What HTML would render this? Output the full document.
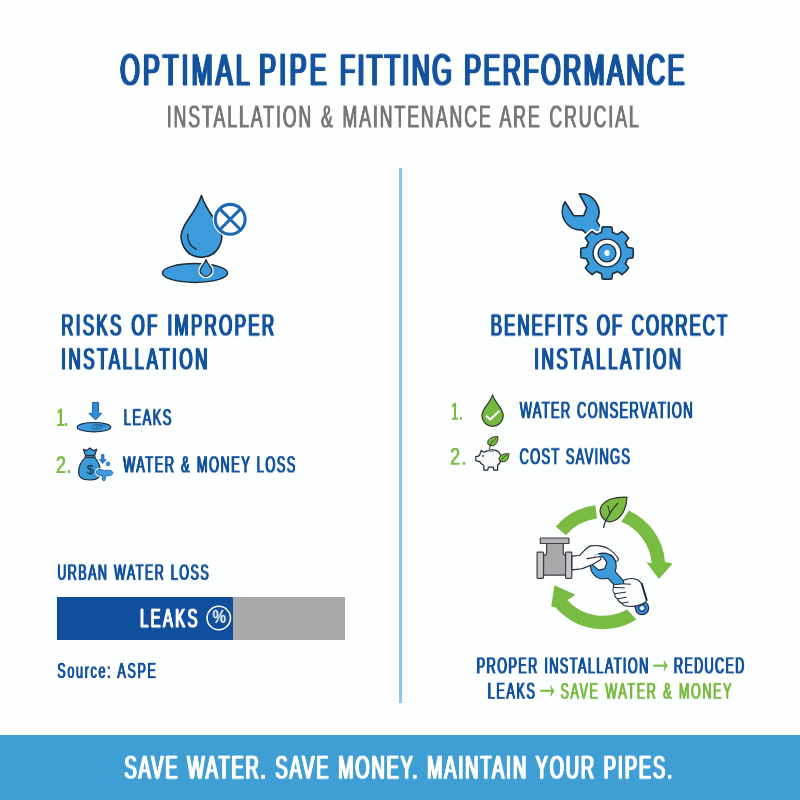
<!DOCTYPE html>
<html><head><meta charset="utf-8"><title>Optimal Pipe Fitting Performance</title>
<style>
html,body{margin:0;padding:0;}
body{width:800px;height:800px;overflow:hidden;background:#fdfefe;position:relative;font-family:"Liberation Sans",sans-serif;}
  .t{position:absolute;left:0;top:0;white-space:nowrap;transform-origin:0 0;margin:0;padding:0;will-change:transform;}
#divider{position:absolute;left:398.5px;top:168px;width:3px;height:535px;background:#8cc6e8;}
#bar{position:absolute;left:57px;top:597px;width:288px;height:42.5px;background:#a9a9a9;}
#barfill{position:absolute;left:0;top:0;width:176px;height:100%;background:#104e9e;}
#footer{position:absolute;left:0;top:735px;width:800px;height:65px;background:#3f9ed4;}
#art{position:absolute;left:0;top:0;width:800px;height:800px;}
#title1{font-size:48.33px;line-height:48.33px;color:#14539e;letter-spacing:6.13px;word-spacing:2.42px;transform:translate(120.23px,46.84px) scale(0.5200,0.9390);-webkit-text-stroke:0.37px #14539e;text-shadow:2.33px 0 0 #14539e,-2.33px 0 0 #14539e;}
#title2{font-size:48.33px;line-height:48.33px;color:#14539e;letter-spacing:6.44px;word-spacing:2.42px;transform:translate(259.18px,46.14px) scale(0.5200,0.9552);-webkit-text-stroke:0.30px #14539e;text-shadow:2.37px 0 0 #14539e,-2.37px 0 0 #14539e;}
#title3{font-size:48.33px;line-height:48.33px;color:#14539e;letter-spacing:4.58px;word-spacing:2.42px;transform:translate(339.76px,46.89px) scale(0.5200,0.9377);-webkit-text-stroke:0.38px #14539e;text-shadow:2.33px 0 0 #14539e,-2.33px 0 0 #14539e;}
#title4{font-size:48.33px;line-height:48.33px;color:#14539e;letter-spacing:4.74px;word-spacing:2.42px;transform:translate(464.18px,46.87px) scale(0.5200,0.9353);-webkit-text-stroke:0.39px #14539e;text-shadow:2.32px 0 0 #14539e,-2.32px 0 0 #14539e;}
#sub{font-size:34.17px;line-height:34.17px;color:#777777;letter-spacing:3.66px;word-spacing:1.71px;transform:translate(166.71px,100.92px) scale(0.5200,0.9161);text-shadow:0.89px 0 0 #777777,-0.89px 0 0 #777777;}
#lh1{font-size:32.58px;line-height:32.58px;color:#14539e;letter-spacing:4.45px;word-spacing:1.63px;transform:translate(61.22px,310.72px) scale(0.5200,0.9193);-webkit-text-stroke:0.42px #14539e;text-shadow:1.58px 0 0 #14539e,-1.58px 0 0 #14539e;}
#lh2{font-size:32.58px;line-height:32.58px;color:#14539e;letter-spacing:4.93px;word-spacing:1.63px;transform:translate(61.17px,344.53px) scale(0.5200,0.9188);-webkit-text-stroke:0.42px #14539e;text-shadow:1.58px 0 0 #14539e,-1.58px 0 0 #14539e;}
#ln1{font-size:26.49px;line-height:26.49px;color:#79bb43;letter-spacing:-0.40px;word-spacing:1.32px;transform:translate(56.82px,404.77px) scale(0.5000,0.9634);text-shadow:1.03px 0 0 #79bb43,-1.03px 0 0 #79bb43;}
#ln2{font-size:25.73px;line-height:25.73px;color:#79bb43;letter-spacing:0.46px;word-spacing:1.29px;transform:translate(55.90px,453.42px) scale(0.7000,0.9290);text-shadow:0.38px 0 0 #79bb43,-0.38px 0 0 #79bb43;}
#li1{font-size:25.00px;line-height:25.00px;color:#14539e;letter-spacing:2.74px;word-spacing:1.25px;transform:translate(123.78px,406.45px) scale(0.5200,0.8925);-webkit-text-stroke:0.31px #14539e;text-shadow:1.09px 0 0 #14539e,-1.09px 0 0 #14539e;}
#li2{font-size:24.70px;line-height:24.70px;color:#14539e;letter-spacing:2.83px;word-spacing:1.23px;transform:translate(123.16px,453.30px) scale(0.5200,0.9585);-webkit-text-stroke:0.15px #14539e;text-shadow:1.15px 0 0 #14539e,-1.15px 0 0 #14539e;}
#urban{font-size:23.88px;line-height:23.88px;color:#14539e;letter-spacing:2.97px;word-spacing:1.19px;transform:translate(57.29px,561.79px) scale(0.5200,0.9006);-webkit-text-stroke:0.31px #14539e;text-shadow:1.11px 0 0 #14539e,-1.11px 0 0 #14539e;}
#barleaks{font-size:28.66px;line-height:28.66px;color:#ffffff;letter-spacing:4.53px;word-spacing:1.43px;transform:translate(140.02px,605.09px) scale(0.5200,0.9261);-webkit-text-stroke:0.35px #ffffff;text-shadow:1.40px 0 0 #ffffff,-1.40px 0 0 #ffffff;}
#source{font-size:23.28px;line-height:23.28px;color:#14539e;letter-spacing:3.09px;word-spacing:1.16px;transform:translate(57.28px,661.30px) scale(0.5400,0.8730);-webkit-text-stroke:0.37px #14539e;text-shadow:0.96px 0 0 #14539e,-0.96px 0 0 #14539e;}
#rh1{font-size:32.58px;line-height:32.58px;color:#14539e;letter-spacing:3.76px;word-spacing:1.63px;transform:translate(490.76px,310.73px) scale(0.5200,0.9189);-webkit-text-stroke:0.42px #14539e;text-shadow:1.58px 0 0 #14539e,-1.58px 0 0 #14539e;}
#rh2{font-size:32.58px;line-height:32.58px;color:#14539e;letter-spacing:5.06px;word-spacing:1.63px;transform:translate(534.21px,344.53px) scale(0.5200,0.9192);-webkit-text-stroke:0.42px #14539e;text-shadow:1.58px 0 0 #14539e,-1.58px 0 0 #14539e;}
#rn1{font-size:25.73px;line-height:25.73px;color:#79bb43;letter-spacing:1.55px;word-spacing:1.29px;transform:translate(451.20px,399.96px) scale(0.5000,0.9411);text-shadow:1.00px 0 0 #79bb43,-1.00px 0 0 #79bb43;}
#rn2{font-size:25.73px;line-height:25.73px;color:#79bb43;letter-spacing:1.71px;word-spacing:1.29px;transform:translate(450.07px,445.12px) scale(0.7000,0.9315);text-shadow:0.38px 0 0 #79bb43,-0.38px 0 0 #79bb43;}
#ri1{font-size:24.85px;line-height:24.85px;color:#14539e;letter-spacing:2.50px;word-spacing:1.24px;transform:translate(519.74px,400.01px) scale(0.5200,0.9054);-webkit-text-stroke:0.27px #14539e;text-shadow:1.10px 0 0 #14539e,-1.10px 0 0 #14539e;}
#ri2{font-size:24.85px;line-height:24.85px;color:#14539e;letter-spacing:2.46px;word-spacing:1.24px;transform:translate(519.53px,446.47px) scale(0.5200,0.8872);-webkit-text-stroke:0.32px #14539e;text-shadow:1.07px 0 0 #14539e,-1.07px 0 0 #14539e;}
#p1{font-size:24.19px;line-height:24.19px;color:#14539e;letter-spacing:2.85px;word-spacing:1.21px;transform:translate(476.71px,654.56px) scale(0.5200,0.9416);-webkit-text-stroke:0.22px #14539e;text-shadow:1.17px 0 0 #14539e,-1.17px 0 0 #14539e;}
#p2{font-size:24.19px;line-height:24.19px;color:#14539e;letter-spacing:2.61px;word-spacing:1.21px;transform:translate(673.87px,654.53px) scale(0.5200,0.9425);-webkit-text-stroke:0.22px #14539e;text-shadow:1.17px 0 0 #14539e,-1.17px 0 0 #14539e;}
#p3{font-size:24.34px;line-height:24.34px;color:#14539e;letter-spacing:3.05px;word-spacing:1.22px;transform:translate(487.75px,679.81px) scale(0.5200,0.9476);-webkit-text-stroke:0.21px #14539e;text-shadow:1.18px 0 0 #14539e,-1.18px 0 0 #14539e;}
#p4{font-size:24.16px;line-height:24.16px;color:#79bb43;letter-spacing:3.13px;word-spacing:1.21px;transform:translate(560.46px,680.39px) scale(0.5200,0.9117);-webkit-text-stroke:0.31px #79bb43;text-shadow:1.05px 0 0 #79bb43,-1.05px 0 0 #79bb43;}
#foot{font-size:35.22px;line-height:35.22px;color:#ffffff;letter-spacing:3.57px;word-spacing:1.76px;transform:translate(124.44px,750.12px) scale(0.5200,0.9490);-webkit-text-stroke:0.30px #ffffff;text-shadow:1.72px 0 0 #ffffff,-1.72px 0 0 #ffffff;}
#ar1{font-size:42.80px;line-height:42.80px;font-weight:normal;color:#79bb43;transform:translate(648.58px,636.78px) scale(0.5546,1);-webkit-text-stroke:0.3px #79bb43;}
#ar2{font-size:43.60px;line-height:43.60px;font-weight:normal;color:#79bb43;transform:translate(535.58px,662.04px) scale(0.5329,1);-webkit-text-stroke:0.3px #79bb43;}
#pct{font-size:17.88px;line-height:17.88px;font-weight:bold;color:#ffffff;transform:translate(212.56px,608.83px) scale(0.8524,1);}
</style></head><body>
<div id="divider"></div>
<div id="bar"><div id="barfill"></div></div>
<div id="footer"></div>
<svg id="art" viewBox="0 0 800 800" width="800" height="800">
<ellipse cx="195" cy="273" rx="32.6" ry="9.4" fill="#3b9bdb" stroke="#1d2b3a" stroke-width="1.5"/>
<path d="M201.40,195.40 C205.81,209.71 216.41,220.20 219.06,227.19 A20.2,20.2 0 1 1 183.74,227.19 C186.39,220.20 196.99,209.71 201.40,195.40Z" fill="#3b9bdb" stroke="#1d2b3a" stroke-width="1.6" stroke-linejoin="round"/>
<path d="M187.6,234.5 C187.6,242 191,247 196,249.2" fill="none" stroke="#1d2b3a" stroke-width="1.4" stroke-linecap="round"/>
<path d="M206.00,259.60 C207.20,263.27 210.10,265.96 210.82,267.75 A5.6,5.6 0 1 1 201.18,267.75 C201.90,265.96 204.80,263.27 206.00,259.60Z" fill="#fff" stroke="#fff" stroke-width="4.2" stroke-linejoin="round"/>
<path d="M206.00,259.60 C207.20,263.27 210.10,265.96 210.82,267.75 A5.6,5.6 0 1 1 201.18,267.75 C201.90,265.96 204.80,263.27 206.00,259.60Z" fill="#3b9bdb" stroke="#1d2b3a" stroke-width="1.3" stroke-linejoin="round"/>
<circle cx="230.2" cy="219.3" r="17.6" fill="#fff"/>
<circle cx="230.2" cy="219.3" r="14.9" fill="#fff" stroke="#1b68b5" stroke-width="3.1"/>
<path d="M220.0,209.10000000000002 L240.39999999999998,229.5 M240.39999999999998,209.10000000000002 L220.0,229.5" stroke="#1b68b5" stroke-width="3.0" fill="none"/>
<path d="M565.0,201.75 L573.7,215.7 L583.75,215.7 L586.75,207.75 L579.25,193.8 A18.45,18.45 0 0 1 596.6,221.2 L600.2,226.4 L606,246 L596,250 L586.4,233.6 L582.3,229.9 A18.45,18.45 0 0 1 565.0,201.75Z" fill="#3b9bdb" stroke="#1d2b3a" stroke-width="1.6" stroke-linejoin="round"/>
<path d="M601.33,232.57 L602.21,227.14 A26.3,26.3 0 0 1 611.79,227.14 L612.67,232.57 A21.2,21.2 0 0 1 617.44,234.55 L621.90,231.33 A26.3,26.3 0 0 1 628.67,238.10 L625.45,242.56 A21.2,21.2 0 0 1 627.43,247.33 L632.86,248.21 A26.3,26.3 0 0 1 632.86,257.79 L627.43,258.67 A21.2,21.2 0 0 1 625.45,263.44 L628.67,267.90 A26.3,26.3 0 0 1 621.90,274.67 L617.44,271.45 A21.2,21.2 0 0 1 612.67,273.43 L611.79,278.86 A26.3,26.3 0 0 1 602.21,278.86 L601.33,273.43 A21.2,21.2 0 0 1 596.56,271.45 L592.10,274.67 A26.3,26.3 0 0 1 585.33,267.90 L588.55,263.44 A21.2,21.2 0 0 1 586.57,258.67 L581.14,257.79 A26.3,26.3 0 0 1 581.14,248.21 L586.57,247.33 A21.2,21.2 0 0 1 588.55,242.56 L585.33,238.10 A26.3,26.3 0 0 1 592.10,231.33 L596.56,234.55 A21.2,21.2 0 0 1 601.33,232.57Z" fill="#fff" stroke="#fff" stroke-width="5" stroke-linejoin="round"/>
<path d="M601.33,232.57 L602.21,227.14 A26.3,26.3 0 0 1 611.79,227.14 L612.67,232.57 A21.2,21.2 0 0 1 617.44,234.55 L621.90,231.33 A26.3,26.3 0 0 1 628.67,238.10 L625.45,242.56 A21.2,21.2 0 0 1 627.43,247.33 L632.86,248.21 A26.3,26.3 0 0 1 632.86,257.79 L627.43,258.67 A21.2,21.2 0 0 1 625.45,263.44 L628.67,267.90 A26.3,26.3 0 0 1 621.90,274.67 L617.44,271.45 A21.2,21.2 0 0 1 612.67,273.43 L611.79,278.86 A26.3,26.3 0 0 1 602.21,278.86 L601.33,273.43 A21.2,21.2 0 0 1 596.56,271.45 L592.10,274.67 A26.3,26.3 0 0 1 585.33,267.90 L588.55,263.44 A21.2,21.2 0 0 1 586.57,258.67 L581.14,257.79 A26.3,26.3 0 0 1 581.14,248.21 L586.57,247.33 A21.2,21.2 0 0 1 588.55,242.56 L585.33,238.10 A26.3,26.3 0 0 1 592.10,231.33 L596.56,234.55 A21.2,21.2 0 0 1 601.33,232.57Z" fill="#3b9bdb" stroke="#1d2b3a" stroke-width="1.6" stroke-linejoin="round"/>
<circle cx="607.0" cy="253.0" r="13.9" fill="#fff" stroke="#1d2b3a" stroke-width="1.4"/>
<circle cx="607.0" cy="253.0" r="8.9" fill="#3b9bdb" stroke="#1d2b3a" stroke-width="1.4"/>
<ellipse cx="607.0" cy="253.0" rx="2.6" ry="3" fill="#fff"/><circle cx="218.75" cy="618" r="11.7" fill="none" stroke="#ffffff" stroke-width="1.6"/>
<path d="M92.6,402.4 H98.5 V413.4 H101.8 L95.55,420 L89.0,413.4 H92.6Z" fill="#2f8cdb" stroke="#1a5ea6" stroke-width="1" stroke-linejoin="round"/>
<ellipse cx="94" cy="427.2" rx="16.8" ry="4.7" fill="#3b9bdb" stroke="#1d2b3a" stroke-width="1.1"/>
<path d="M105,426.6 C103.5,424.5 96,423.9 92.6,426 C90.6,427.6 93,429.3 96.5,429.1 C100,428.9 102.6,427.9 101.3,426.6 C100.1,425.6 96.6,425.8 95.8,426.9" fill="none" stroke="#1a4f8a" stroke-width="0.9" stroke-linecap="round"/>
<path d="M85.6,457.4 C82,460.5 78.4,466.5 78.6,472.5 C78.8,478 83,480 89.4,480 C95.8,480 100.3,478.2 100.4,472.4 C100.5,466.5 97.5,460.5 94.6,457.4Z" fill="#3b9bdb" stroke="#1d2b3a" stroke-width="1.2" stroke-linejoin="round"/>
<path d="M85.6,455.6 L83.4,449.2 L86.6,450.6 L89.9,448.0 L93.2,450.6 L96.7,449.2 L94.6,455.6Z" fill="#3b9bdb" stroke="#1d2b3a" stroke-width="1.2" stroke-linejoin="round"/>
<rect x="85.0" y="455.4" width="10.2" height="2.2" rx="0.8" fill="#5b6d80" stroke="#1d2b3a" stroke-width="0.9"/>
<path d="M101.4,454.6 H104.0 V459.6 H106.2 L102.7,463.6 L99.2,459.6 H101.4Z" fill="#2a7fd0" stroke="#1a5ea6" stroke-width="0.7" stroke-linejoin="round"/>
<circle cx="108" cy="463.8" r="1.9" fill="#3b9bdb" stroke="#1a5ea6" stroke-width="0.8"/>
<path d="M97.2,470.2 C98.5,468.8 101.5,469.6 104.5,470.6 C107.5,469.8 112.6,470 112.8,472.8 C112.9,475.4 108.6,476.2 105.6,475.6 C105.2,477.6 105.6,480.8 103.9,480.9 C102.1,480.9 102.4,477.6 102.3,475.6 C99.6,476 96.6,474.6 96.4,472.6 C96.3,471.6 96.6,470.8 97.2,470.2Z" fill="#fff" stroke="#fff" stroke-width="2.6" stroke-linejoin="round"/>
<path d="M97.2,470.2 C98.5,468.8 101.5,469.6 104.5,470.6 C107.5,469.8 112.6,470 112.8,472.8 C112.9,475.4 108.6,476.2 105.6,475.6 C105.2,477.6 105.6,480.8 103.9,480.9 C102.1,480.9 102.4,477.6 102.3,475.6 C99.6,476 96.6,474.6 96.4,472.6 C96.3,471.6 96.6,470.8 97.2,470.2Z" fill="#3b9bdb" stroke="#1a5ea6" stroke-width="0.9" stroke-linejoin="round"/>
<text x="86.75" y="473.6" font-family="Liberation Sans, sans-serif" font-size="12.9" fill="#1d2b3a">$</text><path d="M492.60,394.90 C494.88,401.83 500.35,406.91 501.72,410.30 A10.6,10.6 0 1 1 483.48,410.30 C484.85,406.91 490.32,401.83 492.60,394.90Z" fill="#74b83f" stroke="#2c3a2a" stroke-width="1.2" stroke-linejoin="round"/>
<path d="M486.6,416.2 L490.4,419.6 L498.7,411.6" fill="none" stroke="#fff" stroke-width="2.1" stroke-linecap="round" stroke-linejoin="round"/>
<path d="M479.6,455.2 L481.2,450.4 L484.2,452.2 C486.5,450.6 490,449.8 493.2,449.9 C498.5,450 501.3,454 501.2,458.4 C501.1,461.6 499.6,463.6 497.6,465.2 L497.6,470.2 L493.8,470.2 L493.2,467.2 L488.4,467.2 L487.8,470.2 L484.0,470.2 L483.8,465.6 C482,464.6 480.4,463 479.6,461.6 L475.8,460.6 L475.8,456.6 L478.4,456.2Z" fill="#fafafa" stroke="#1d2b3a" stroke-width="1.2" stroke-linejoin="round"/>
<circle cx="483.0" cy="455.9" r="0.9" fill="#1d2b3a"/>
<path d="M487.6,450.9 H493.6" stroke="#8a8f94" stroke-width="1.5" stroke-linecap="round"/>
<path d="M489.6,449.6 C489.4,447.4 490.2,446.4 491.2,445.2" fill="none" stroke="#2c3a2a" stroke-width="1"/>
<path d="M488.2,444.6 C486.2,440 490.6,436.6 497.8,436.4 C498.6,442.6 494.4,448.2 488.2,444.6Z" fill="#74b83f" stroke="#2c3a2a" stroke-width="1" stroke-linejoin="round"/>
<path d="M489.4,446.2 C491.4,442.6 494,439.8 496.6,437.8" fill="none" stroke="#2c3a2a" stroke-width="0.8"/>
<path d="M499.4,460.6 C497.6,456.4 502.4,453.4 508.8,453.6 C509.2,459.4 505.2,464 499.4,460.6Z" fill="#74b83f" stroke="#2c3a2a" stroke-width="1" stroke-linejoin="round"/>
<path d="M499.6,461.6 C501.8,458.8 504.6,456.4 507.4,454.8" fill="none" stroke="#2c3a2a" stroke-width="0.8"/><path d="M555.70,526.60 A62.2,62.2 0 0 1 595.42,505.26 L597.05,518.56 A48.8,48.8 0 0 0 565.89,535.31Z" fill="#79bb43"/>
<path d="M628.79,510.40 A62.2,62.2 0 0 1 665.01,562.12 L672.6,563.4 L659.0,578.9 L646.3,562.3 L651.65,563.17 A48.8,48.8 0 0 0 621.28,521.75Z" fill="#79bb43"/>
<path d="M636.42,619.46 A62.2,62.2 0 0 1 555.70,607.40 L551.2,606.5 L554.4,585.3 L575.6,594.7 L567.31,600.28 A48.8,48.8 0 0 0 627.03,609.47Z" fill="#79bb43"/>
<path d="M605.80,520.80 C600.25,516.75 598.30,510.00 602.20,504.75 C607.00,498.75 617.50,496.80 626.94,497.10 C626.79,505.50 623.49,515.25 616.00,519.75 C612.25,522.00 608.50,522.30 605.80,520.80Z" fill="#fff" stroke="#fff" stroke-width="4.5" stroke-linejoin="round"/>
<path d="M605.80,520.80 C600.25,516.75 598.30,510.00 602.20,504.75 C607.00,498.75 617.50,496.80 626.94,497.10 C626.79,505.50 623.49,515.25 616.00,519.75 C612.25,522.00 608.50,522.30 605.80,520.80Z" fill="#79bb43" stroke="#2b3527" stroke-width="1.2" stroke-linejoin="round"/>
<path d="M603.70,527.40 C604.00,522.75 606.25,519.30 609.70,513.75 C612.25,509.70 614.80,506.25 617.80,503.25" fill="none" stroke="#2b3527" stroke-width="1.2" stroke-linecap="round"/>
<path d="M610.00,513.30 C609.10,510.60 608.50,508.50 607.90,505.80" fill="none" stroke="#2b3527" stroke-width="1.0" stroke-linecap="round"/>
<path d="M546.6,543.5 H563.3 V552.5 C563.3,554.3 564.3,555.4 566,555.4 V575.2 H543.5 V555.4 C545.4,555.4 546.6,554.3 546.6,552.5Z" fill="#a9a9ac" stroke="#3a3e44" stroke-width="1.2" stroke-linejoin="round"/>
<rect x="540.3" y="538" width="28.7" height="5.5" rx="0.6" fill="#b4b4b7" stroke="#3a3e44" stroke-width="1.2"/>
<rect x="537.1" y="552.1" width="6.4" height="26.3" rx="0.8" fill="#c6c6c8" stroke="#3a3e44" stroke-width="1.2"/>
<rect x="565.6" y="552.1" width="6.2" height="26.3" rx="0.8" fill="#c6c6c8" stroke="#3a3e44" stroke-width="1.2"/>
<path d="M571.97,556.15 L579.40,555.47 C583.56,551.87 586.37,546.81 591.10,545.91 C595.94,544.90 603.81,545.69 609.44,549.40 C613.60,552.10 616.52,555.47 618.32,558.62 C618.77,560.65 616.97,562.00 615.40,560.87 C614.50,558.40 612.81,556.37 610.56,554.69 L598.75,554.12 L592.00,564.47 L581.87,568.75 L571.97,569.87Z" fill="#fcfcfc" stroke="#1f2a36" stroke-width="1.1" stroke-linejoin="round"/>
<circle cx="603.36" cy="565.94" r="12.3" fill="#1f2a36" stroke="#1f2a36" stroke-width="2.2"/>
<path d="M600.05,568.98 L639.24,610.71 L644.88,605.54 L606.68,562.90Z" fill="#1f2a36" stroke="#1f2a36" stroke-width="2.2" stroke-linejoin="round"/>
<circle cx="642.06" cy="608.12" r="6.1" fill="#1f2a36" stroke="#1f2a36" stroke-width="2.2"/>
<circle cx="603.36" cy="565.94" r="12.3" fill="#3b9bdb"/>
<path d="M600.05,568.98 L639.24,610.71 L644.88,605.54 L606.68,562.90Z" fill="#3b9bdb"/>
<circle cx="642.06" cy="608.12" r="6.1" fill="#3a86dc"/>
<circle cx="642.06" cy="608.12" r="3.5" fill="#4a96e4" stroke="#1f2a36" stroke-width="0.9"/>
<circle cx="642.06" cy="608.12" r="1.9" fill="#fff"/>
<path d="M589.97,564.02 L593.12,564.47 L598.75,570.10 L604.60,568.75 L606.96,562.34 L603.02,557.05 L597.62,554.12 L590.31,559.19Z" fill="#fcfcfc"/>
<path d="M592.45,565.15 L598.75,570.10 L604.60,568.75 L606.96,562.34 L603.02,557.05 L600.77,555.92" fill="none" stroke="#1f2a36" stroke-width="1.1" stroke-linejoin="round"/>
<path d="M581.87,568.75 L592.00,564.70 L600.10,559.97 C601.90,558.40 600.77,556.37 598.75,556.71 L586.94,558.62 L581.87,562.00Z" fill="#fcfcfc"/>
<path d="M581.87,568.75 L591.55,564.92 L600.10,559.97 C601.90,558.40 600.77,556.37 598.75,556.71 L586.94,558.62" fill="none" stroke="#1f2a36" stroke-width="1.1" stroke-linejoin="round" stroke-linecap="round"/>
<path d="M623.50,580.22 C628.00,578.31 633.62,577.75 638.12,580.00 L641.72,583.60 L646.67,600.02 L645.44,602.27 C641.50,604.75 634.75,607.00 628.00,606.32 C624.62,606.10 622.60,604.97 621.92,603.17 C619.90,602.50 617.87,600.92 617.65,598.90 C615.62,598.00 614.50,595.75 614.95,593.72 C613.15,592.37 612.25,589.56 613.60,587.42 C612.70,585.85 613.60,584.50 615.62,584.50 L623.72,583.82Z" fill="#fcfcfc" stroke="#1f2a36" stroke-width="1.1" stroke-linejoin="round"/>
<path d="M614.95,593.72 L625.52,592.15 M617.65,598.90 L626.31,597.32 M621.92,603.17 L628.22,602.05 M613.60,587.42 L624.40,587.87 M623.72,583.82 L630.47,584.27" fill="none" stroke="#1f2a36" stroke-width="1.0" stroke-linecap="round"/>
<path d="M641.72,583.60 L646.67,600.02" fill="none" stroke="#14213a" stroke-width="1.8" stroke-linecap="round"/>
</svg>
<div class="t" id="title1">OPTIMAL</div>
<div class="t" id="title2">PIPE</div>
<div class="t" id="title3">FITTING</div>
<div class="t" id="title4">PERFORMANCE</div>
<div class="t" id="sub">INSTALLATION &amp; MAINTENANCE ARE CRUCIAL</div>
<div class="t" id="lh1">RISKS OF IMPROPER</div>
<div class="t" id="lh2">INSTALLATION</div>
<div class="t" id="ln1">1.</div>
<div class="t" id="ln2">2.</div>
<div class="t" id="li1">LEAKS</div>
<div class="t" id="li2">WATER &amp; MONEY LOSS</div>
<div class="t" id="urban">URBAN WATER LOSS</div>
<div class="t" id="barleaks">LEAKS</div>
<div class="t" id="source">Source: ASPE</div>
<div class="t" id="rh1">BENEFITS OF CORRECT</div>
<div class="t" id="rh2">INSTALLATION</div>
<div class="t" id="rn1">1.</div>
<div class="t" id="rn2">2.</div>
<div class="t" id="ri1">WATER CONSERVATION</div>
<div class="t" id="ri2">COST SAVINGS</div>
<div class="t" id="p1">PROPER INSTALLATION</div>
<div class="t" id="p2">REDUCED</div>
<div class="t" id="p3">LEAKS</div>
<div class="t" id="p4">SAVE WATER &amp; MONEY</div>
<div class="t" id="foot">SAVE WATER. SAVE MONEY. MAINTAIN YOUR PIPES.</div>
<div class="t" id="ar1">→</div>
<div class="t" id="ar2">→</div>
<div class="t" id="pct">%</div>
</body></html>
